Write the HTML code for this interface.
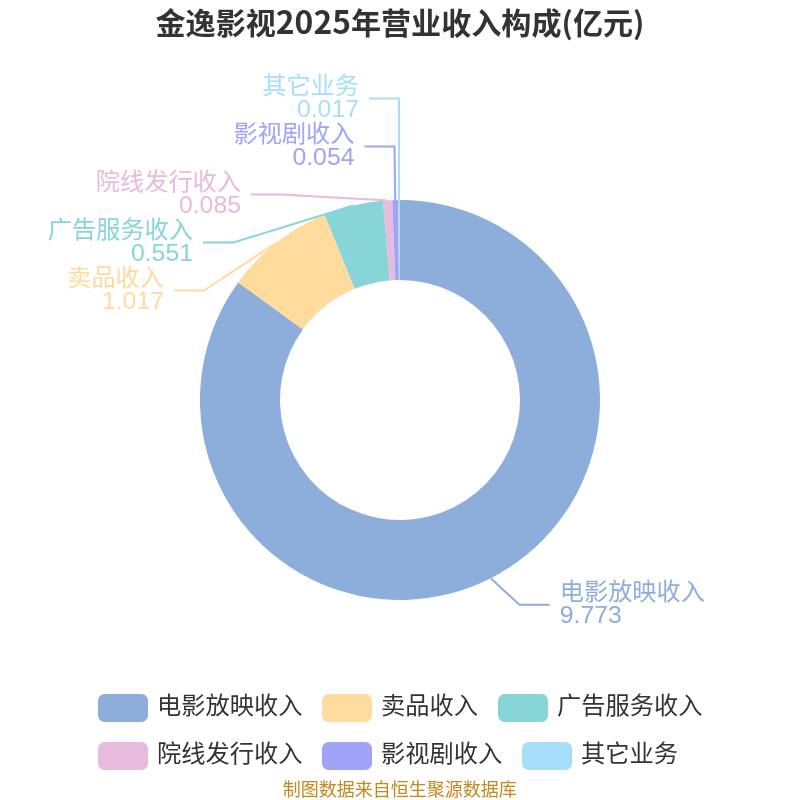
<!DOCTYPE html>
<html lang="zh-CN"><head><meta charset="utf-8"><title>金逸影视2025年营业收入构成(亿元)</title>
<style>
html,body{margin:0;padding:0;background:#fff;}
body{width:800px;height:800px;overflow:hidden;}
svg{display:block;}
text{font-family:"Noto Sans CJK SC","Liberation Sans",sans-serif;}
.ttl{font-size:30.1px;font-weight:700;fill:#333;text-anchor:middle;}
.dg{font-size:31.8px;}
.lb{font-size:24.2px;}
.lv{font-family:"Liberation Sans","Noto Sans CJK SC",sans-serif;font-size:24.8px;}
.lg{font-size:24.25px;fill:#333;}
.ft{font-size:18px;fill:#c4881c;text-anchor:middle;}
</style></head><body>
<svg width="800" height="800" viewBox="0 0 800 800">
<rect width="800" height="800" fill="#fff"/>
<text x="400" y="34.17" class="ttl">金逸影视<tspan class="dg" dy="-0.5">2025</tspan><tspan dy="0.5">年营业收入构成(亿元)</tspan></text>
<g>
<path d="M400.00 200.00A200 200 0 1 1 238.23 282.39L302.94 329.44A120 120 0 1 0 400.00 280.00Z" fill="#8daedb"/>
<path d="M238.23 282.39A200 200 0 0 1 324.63 214.74L354.78 288.85A120 120 0 0 0 302.94 329.44Z" fill="#ffdb9e"/>
<path d="M324.63 214.74A200 200 0 0 1 382.97 200.73L389.78 280.44A120 120 0 0 0 354.78 288.85Z" fill="#88d5d8"/>
<path d="M382.97 200.73A200 200 0 0 1 392.24 200.15L395.34 280.09A120 120 0 0 0 389.78 280.44Z" fill="#e8badb"/>
<path d="M392.24 200.15A200 200 0 0 1 398.14 200.01L398.89 280.01A120 120 0 0 0 395.34 280.09Z" fill="#a0a3f7"/>
<path d="M398.14 200.01A200 200 0 0 1 400.00 200.00L400.00 280.00A120 120 0 0 0 398.89 280.01Z" fill="#a7dffa"/>
</g>
<g>
<polyline points="490.77,578.21 519.40,604.75 549.75,604.75" fill="none" stroke="#8daedb" stroke-width="2"/>
<polyline points="276.70,242.53 204.00,290.50 174.00,290.50" fill="none" stroke="#ffdb9e" stroke-width="2"/>
<polyline points="353.27,205.54 233.50,242.50 203.00,242.50" fill="none" stroke="#88d5d8" stroke-width="2"/>
<polyline points="387.60,200.38 281.00,194.50 251.00,194.50" fill="none" stroke="#e8badb" stroke-width="2"/>
<polyline points="395.19,200.06 394.50,146.50 364.50,146.50" fill="none" stroke="#a0a3f7" stroke-width="2"/>
<polyline points="399.07,200.00 399.00,98.50 369.00,98.50" fill="none" stroke="#a7dffa" stroke-width="2"/>
</g>
<g>
<text x="559.75" y="600.30" text-anchor="start" fill="#8daedb" class="lb">电影放映收入</text>
<text x="559.75" y="623.05" text-anchor="start" fill="#8daedb" class="lv">9.773</text>
<text x="164" y="286.05" text-anchor="end" fill="#ffdb9e" class="lb">卖品收入</text>
<text x="164" y="308.80" text-anchor="end" fill="#ffdb9e" class="lv">1.017</text>
<text x="193" y="238.05" text-anchor="end" fill="#88d5d8" class="lb">广告服务收入</text>
<text x="193" y="260.80" text-anchor="end" fill="#88d5d8" class="lv">0.551</text>
<text x="241" y="190.05" text-anchor="end" fill="#e8badb" class="lb">院线发行收入</text>
<text x="241" y="212.80" text-anchor="end" fill="#e8badb" class="lv">0.085</text>
<text x="354.5" y="142.05" text-anchor="end" fill="#a0a3f7" class="lb">影视剧收入</text>
<text x="354.5" y="164.80" text-anchor="end" fill="#a0a3f7" class="lv">0.054</text>
<text x="359" y="94.05" text-anchor="end" fill="#a7dffa" class="lb">其它业务</text>
<text x="359" y="116.80" text-anchor="end" fill="#a7dffa" class="lv">0.017</text>
</g>
<g>
<rect x="98" y="694" width="50" height="28" rx="6.5" ry="6.5" fill="#8daedb"/>
<text x="157" y="713.97" class="lg">电影放映收入</text>
<rect x="322" y="694" width="50" height="28" rx="6.5" ry="6.5" fill="#ffdb9e"/>
<text x="381" y="713.97" class="lg">卖品收入</text>
<rect x="498" y="694" width="50" height="28" rx="6.5" ry="6.5" fill="#88d5d8"/>
<text x="557" y="713.97" class="lg">广告服务收入</text>
<rect x="98" y="742" width="50" height="28" rx="6.5" ry="6.5" fill="#e8badb"/>
<text x="157" y="761.97" class="lg">院线发行收入</text>
<rect x="322" y="742" width="50" height="28" rx="6.5" ry="6.5" fill="#a0a3f7"/>
<text x="381" y="761.97" class="lg">影视剧收入</text>
<rect x="522" y="742" width="50" height="28" rx="6.5" ry="6.5" fill="#a7dffa"/>
<text x="581" y="761.97" class="lg">其它业务</text>
</g>
<text x="399.7" y="795.85" class="ft">制图数据来自恒生聚源数据库</text>
</svg>
</body></html>
